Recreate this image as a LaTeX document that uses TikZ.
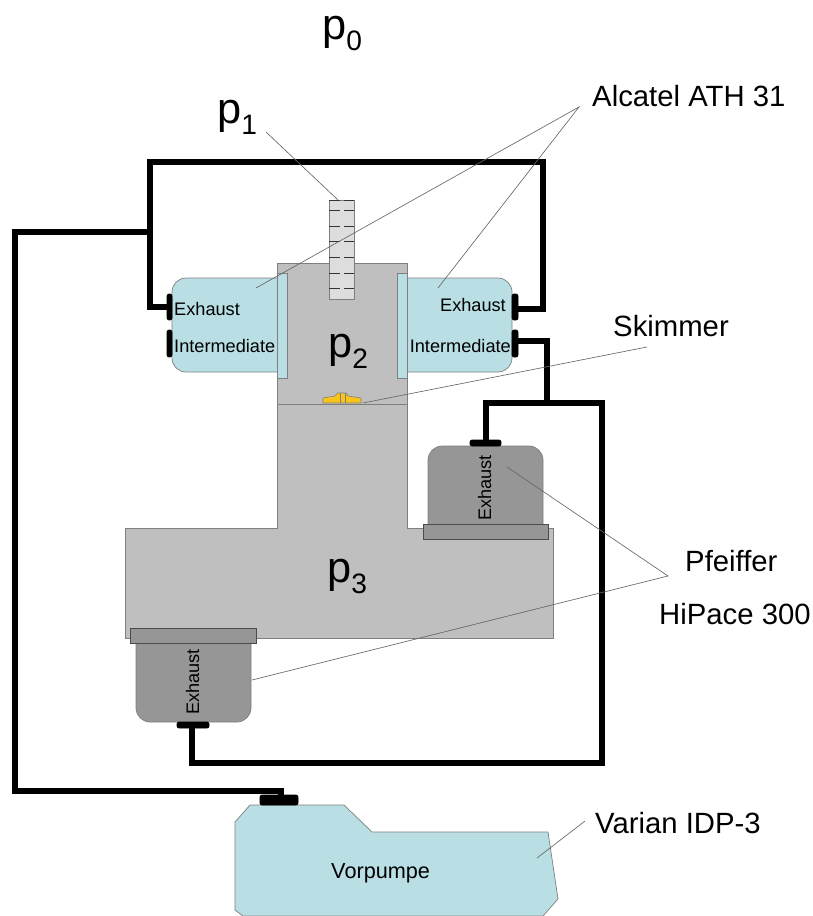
\documentclass[tikz,border=0pt]{standalone}
\usepackage{fontspec}
\setmainfont{Liberation Sans}
\usetikzlibrary{positioning}
\definecolor{chambergray}{HTML}{BFBFBF}
\definecolor{edgegray}{HTML}{7F7F7F}
\definecolor{pumpblue}{HTML}{B9DFE4}
\definecolor{turbogray}{HTML}{969696}
\definecolor{tubegray}{HTML}{DDDDDD}
\definecolor{skimmeryellow}{HTML}{F9C51A}
\newcommand{\psub}[1]{p\raisebox{-10pt}{\fontsize{24}{24}\selectfont #1}}
\tikzset{
  wire/.style={line width=4.8pt,miter limit=10},
  leader/.style={draw=black!60,line width=0.55pt},
  plug/.style={fill=black,draw=black,line width=0.8pt,rounded corners=2pt},
  part/.style={draw=edgegray,line width=0.6pt},
  smalltext/.style={font=\fontsize{15.5}{18}\selectfont,inner sep=0pt},
  bigtext/.style={font=\fontsize{25}{30}\selectfont,inner sep=0pt,anchor=base west},
  pressure/.style={font=\fontsize{37}{44}\selectfont,inner sep=0pt,anchor=base west},
}
\begin{document}
\begin{tikzpicture}[x=0.03cm,y=-0.03cm]
\useasboundingbox (0,0) rectangle (813,916);
% chamber
\draw[part,fill=chambergray] (277,263) -- (407,263) -- (407,528) -- (553,528) -- (553,638) -- (125,638) -- (125,528) -- (277,528) -- cycle;
\draw[part] (277,404) -- (407,404);
% inlet tube
\draw[part,fill=tubegray] (329,200) rectangle (354,299);
\foreach \y in {200,210,226,241,257,273,288}{
  \draw[black!80,line width=0.6pt] (329,\y) -- (340,\y);
  \draw[black!80,line width=0.6pt] (344,\y) -- (354,\y);
}
% skimmer
\draw[draw=edgegray,fill=skimmeryellow,line width=0.5pt] (323,403) -- (323,398) -- (335,396) -- (337.5,393) -- (346,393) -- (348,396) -- (361,398) -- (361,403) -- cycle;
\draw[edgegray,line width=0.5pt] (340,393) -- (340,403) (345,393) -- (345,403);
% Alcatel pumps
\draw[part,fill=pumpblue,rounded corners=12pt] (280,278) -- (172,278) -- (172,372) -- (280,372);
\draw[part,fill=pumpblue,rounded corners=12pt] (404,278) -- (512,278) -- (512,372) -- (404,372);
\draw[part,fill=pumpblue] (277,273) rectangle (287,378);
\draw[part,fill=pumpblue] (397,273) rectangle (407,378);
% turbo pumps
\draw[part,fill=turbogray,rounded corners=12pt] (428,527) -- (428,446) -- (543,446) -- (543,527);
\draw[fill=turbogray,draw=black!70,line width=0.6pt] (423,524) rectangle (548,539);
\draw[part,fill=turbogray,rounded corners=12pt] (136,640) -- (136,722) -- (251,722) -- (251,640);
\draw[fill=turbogray,draw=black!70,line width=0.6pt] (130,628) rectangle (256,643);
% forepump
\draw[part,fill=pumpblue] (250,805) -- (344,805) -- (372,832) -- (548,832) -- (558,899) -- (543,916) -- (243,916) -- (235,910) -- (235,822) -- cycle;
% plugs
\draw[plug] (167,294) rectangle (172,320);
\draw[plug] (167,330) rectangle (172,357);
\draw[plug] (512,294) rectangle (518,320);
\draw[plug] (512,330) rectangle (518,357);
\draw[plug] (470,440) rectangle (501,446);
\draw[plug] (177,722) rectangle (209,728);
\draw[plug] (260,795) rectangle (298,805);
% lines
\coordinate (exhL) at (168,307);
\coordinate (exhR) at (515,309);
\coordinate (intR) at (515,341);
\coordinate (branch) at (150,232);
\coordinate (tee) at (547,403);
\coordinate (turboT) at (486,441);
\coordinate (turboB) at (192,727);
\coordinate (fore) at (281,800);
\draw[wire] (exhL) -- (150,307) -- (150,162) -- (543,162) -- (543,309) -- (exhR);
\draw[wire] (branch) -- (15,232) -- (15,791) -- (281,791) -- (fore);
\draw[wire] (intR) -- (547,341) -- (tee);
\draw[wire] (turboT) -- (486,403) -- (602,403) -- (602,763) -- (192,763) -- (turboB);
% labels
\node[pressure] (pzero) at (322,39) {\psub{0}};
\node[pressure] (pone) at (217,123) {\psub{1}};
\node[pressure] (ptwo) at (328,357) {\psub{2}};
\node[pressure] (pthree) at (327,582) {\psub{3}};
\node[bigtext] (alcatel) at (592,106) {Alcatel ATH 31};
\node[bigtext] (skimmer) at (613,336) {Skimmer};
\node[bigtext] (pfeiffer) at (685,571) {Pfeiffer};
\node[bigtext] (hipace) at (659,624) {HiPace 300};
\node[bigtext] (varian) at (595,833) {Varian IDP-3};
\node[smalltext,anchor=base west] (exhaustL) at (174,315) {Exhaust};
\node[smalltext,anchor=base west] (interL) at (174,352) {Intermediate};
\node[smalltext,anchor=base east] (exhaustR) at (506,311) {Exhaust};
\node[smalltext,anchor=base east] (interR) at (511,352) {Intermediate};
\node[smalltext,rotate=90,anchor=base] (exhaustT) at (491,488) {Exhaust};
\node[smalltext,rotate=90,anchor=base] (exhaustB) at (199,682) {Exhaust};
\node[font=\fontsize{18.5}{22}\selectfont,inner sep=0pt,anchor=base west] (vorpumpe) at (331,878) {Vorpumpe};
% leaders
\coordinate (apexA) at (579,107);
\coordinate (apexP) at (668,576);
\draw[leader] (266,132) -- (338,200);
\draw[leader] (256,288) -- (apexA) -- (438,288);
\draw[leader] (363,403) -- (647,347);
\draw[leader] (507,467) -- (apexP) -- (252,680);
\draw[leader] (585,821) -- (537,858);
\end{tikzpicture}
\end{document}
